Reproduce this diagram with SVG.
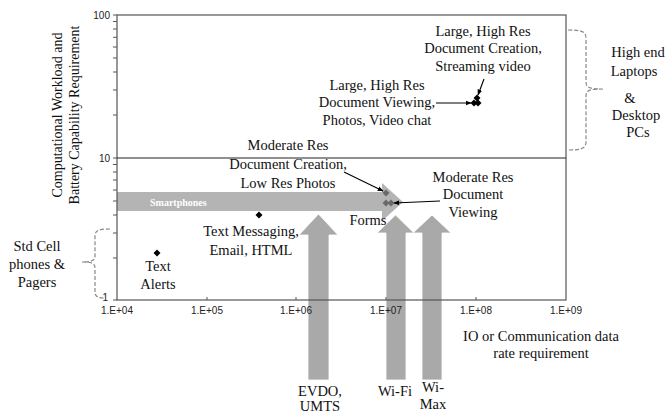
<svg xmlns="http://www.w3.org/2000/svg" width="665" height="415" viewBox="0 0 665 415">
<defs>
<style>
.t{font-family:"Liberation Serif","Times New Roman",serif;font-size:14.5px;fill:#111;text-anchor:middle}
.ax{font-family:"Liberation Sans",Arial,sans-serif;font-size:10px;fill:#222}
.frame{fill:none;stroke:#555;stroke-width:1.2}
.tick{stroke:#555;stroke-width:1}
.brace{fill:none;stroke:#888;stroke-width:1.2;stroke-dasharray:4 2}
.varrow{fill:#a9a9a9;stroke:#fff;stroke-width:0.8}
.pt{fill:#000}
.ptg{fill:#6a6a6a}
.conn{fill:none;stroke:#000;stroke-width:1.1}
</style>
<marker id="ah" viewBox="0 0 10 10" refX="9" refY="5" markerWidth="6" markerHeight="6" orient="auto" markerUnits="userSpaceOnUse">
<path d="M0 1 L10 5 L0 9 Z" fill="#000"/>
</marker>
</defs>
<rect width="665" height="415" fill="#fff"/>

<!-- Y axis title -->
<g id="y-title">
<text class="t" transform="translate(62,115) rotate(-90)" style="font-size:14px">Computational Workload and</text>
<text class="t" transform="translate(79,115) rotate(-90)" style="font-size:14px">Battery Capability Requirement</text>
</g>

<!-- Smartphones band -->
<g id="smartphones">
<path d="M117 192 L382 192 L382 183 L403 202 L382 221 L382 211 L117 211 Z" fill="#b4b4b4"/>
<text x="150" y="205.5" style="font-family:'Liberation Serif','Times New Roman',serif;font-size:10px;font-weight:bold;fill:#fff">Smartphones</text>
</g>

<!-- data points -->
<g id="points">
<path class="pt" d="M157 249.5 L160.5 253 L157 256.5 L153.5 253 Z"/>
<path class="pt" d="M259 211.5 L262.5 215 L259 218.5 L255.5 215 Z"/>
<path class="ptg" d="M386 189.5 L389.5 193 L386 196.5 L382.5 193 Z"/>
<path class="ptg" d="M386 199.5 L389.5 203 L386 206.5 L382.5 203 Z"/>
<path class="ptg" d="M391 199.5 L394.5 203 L391 206.5 L387.5 203 Z"/>
<path class="pt" d="M477 94.5 L480.5 98 L477 101.5 L473.5 98 Z"/>
<path class="pt" d="M474 99.5 L477.5 103 L474 106.5 L470.5 103 Z"/>
<path class="pt" d="M478 99.5 L481.5 103 L478 106.5 L474.5 103 Z"/>
</g>

<!-- network arrows -->
<g id="evdo">
<path class="varrow" d="M308 380 L308 235 L299 235 L318.5 214 L338 235 L329 235 L329 380 Z"/>
<text class="t" x="320" y="396">EVDO,</text>
<text class="t" x="320" y="411">UMTS</text>
</g>
<g id="wifi">
<path class="varrow" d="M386 380 L386 233 L377 233 L395.5 215 L414 233 L406 233 L406 380 Z"/>
<text class="t" x="395" y="396">Wi-Fi</text>
</g>
<g id="wimax">
<path class="varrow" d="M422 380 L422 233 L413 233 L432 215 L451 233 L442 233 L442 380 Z"/>
<text class="t" x="433" y="392">Wi-</text>
<text class="t" x="433" y="409">Max</text>
</g>

<!-- axes / frame -->
<g id="axes">
<rect class="frame" x="117" y="15" width="449" height="285"/>
<line x1="117" y1="158" x2="566" y2="158" stroke="#222" stroke-width="1.1"/>
<g class="tick">
<line x1="113" y1="15" x2="117" y2="15"/>
<line x1="113" y1="21.5" x2="117" y2="21.5"/>
<line x1="113" y1="29" x2="117" y2="29"/>
<line x1="113" y1="37.3" x2="117" y2="37.3"/>
<line x1="113" y1="47" x2="117" y2="47"/>
<line x1="113" y1="58" x2="117" y2="58"/>
<line x1="113" y1="72" x2="117" y2="72"/>
<line x1="113" y1="90" x2="117" y2="90"/>
<line x1="113" y1="115" x2="117" y2="115"/>
<line x1="113" y1="158" x2="117" y2="158"/>
<line x1="113" y1="164.5" x2="117" y2="164.5"/>
<line x1="113" y1="172" x2="117" y2="172"/>
<line x1="113" y1="180" x2="117" y2="180"/>
<line x1="113" y1="190" x2="117" y2="190"/>
<line x1="113" y1="201" x2="117" y2="201"/>
<line x1="113" y1="215" x2="117" y2="215"/>
<line x1="113" y1="233" x2="117" y2="233"/>
<line x1="113" y1="258" x2="117" y2="258"/>
<line x1="113" y1="300" x2="117" y2="300"/>
<line x1="207" y1="297" x2="207" y2="300"/>
<line x1="296" y1="297" x2="296" y2="300"/>
<line x1="386" y1="297" x2="386" y2="300"/>
<line x1="476" y1="297" x2="476" y2="300"/>
</g>
<text class="ax" x="110" y="19" text-anchor="end">100</text>
<text class="ax" x="110" y="162" text-anchor="end">10</text>
<text class="ax" x="108" y="301" text-anchor="end">1</text>
<text class="ax" x="117" y="313.5" text-anchor="middle">1.E+04</text>
<text class="ax" x="207" y="313.5" text-anchor="middle">1.E+05</text>
<text class="ax" x="296" y="313.5" text-anchor="middle">1.E+06</text>
<text class="ax" x="386" y="313.5" text-anchor="middle">1.E+07</text>
<text class="ax" x="476" y="313.5" text-anchor="middle">1.E+08</text>
<text class="ax" x="566" y="313.5" text-anchor="middle">1.E+09</text>
</g>

<g id="x-title">
<text class="t" x="541" y="341">IO or Communication data</text>
<text class="t" x="541" y="358">rate requirement</text>
</g>

<!-- labels -->
<g id="large-creation">
<text class="t" x="483" y="36">Large, High Res</text>
<text class="t" x="483" y="53">Document Creation,</text>
<text class="t" x="483" y="71">Streaming video</text>
</g>
<g id="large-viewing">
<text class="t" x="377" y="90">Large, High Res</text>
<text class="t" x="377" y="107">Document Viewing,</text>
<text class="t" x="377" y="125">Photos, Video chat</text>
</g>
<g id="moderate-creation">
<text class="t" x="288" y="150">Moderate Res</text>
<text class="t" x="288" y="169">Document Creation,</text>
<text class="t" x="288" y="188">Low Res Photos</text>
</g>
<g id="moderate-viewing">
<text class="t" x="473" y="182">Moderate Res</text>
<text class="t" x="473" y="199">Document</text>
<text class="t" x="473" y="217">Viewing</text>
</g>
<g id="forms">
<text class="t" x="368" y="225">Forms</text>
</g>
<g id="text-messaging">
<text class="t" x="251" y="236">Text Messaging,</text>
<text class="t" x="251" y="255">Email, HTML</text>
</g>
<g id="text-alerts">
<text class="t" x="158" y="271">Text</text>
<text class="t" x="158" y="289">Alerts</text>
</g>
<g id="std-cell">
<text class="t" x="37" y="251">Std Cell</text>
<text class="t" x="37" y="269">phones &amp;</text>
<text class="t" x="37" y="287">Pagers</text>
</g>
<g id="high-end">
<text class="t" x="638" y="57">High end</text>
<text class="t" x="634" y="76">Laptops</text>
<text class="t" x="630" y="103">&amp;</text>
<text class="t" x="636" y="120">Desktop</text>
<text class="t" x="638" y="137">PCs</text>
</g>

<!-- connectors -->
<g id="connectors">
<path class="conn" d="M484 79 L478 95" marker-end="url(#ah)"/>
<path class="conn" d="M436 103 L471 103" marker-end="url(#ah)"/>
<path class="conn" d="M344 172 L383 191" marker-end="url(#ah)"/>
<path class="conn" d="M440 201 L394 203" marker-end="url(#ah)"/>
<path class="brace" d="M568 30 C580 30 586 31 586 38 L586 82 C586 88 590 89 603 89 M603 89 C590 89 586 90 586 96 L586 142 C586 149 580 150 568 150"/>
<path class="brace" d="M110 229 C100 229 95 230 95 236 L95 256 C95 261 91 262 82 262 M82 262 C91 262 95 263 95 268 L95 292 C95 297 99 298 104 298"/>
</g>
</svg>
